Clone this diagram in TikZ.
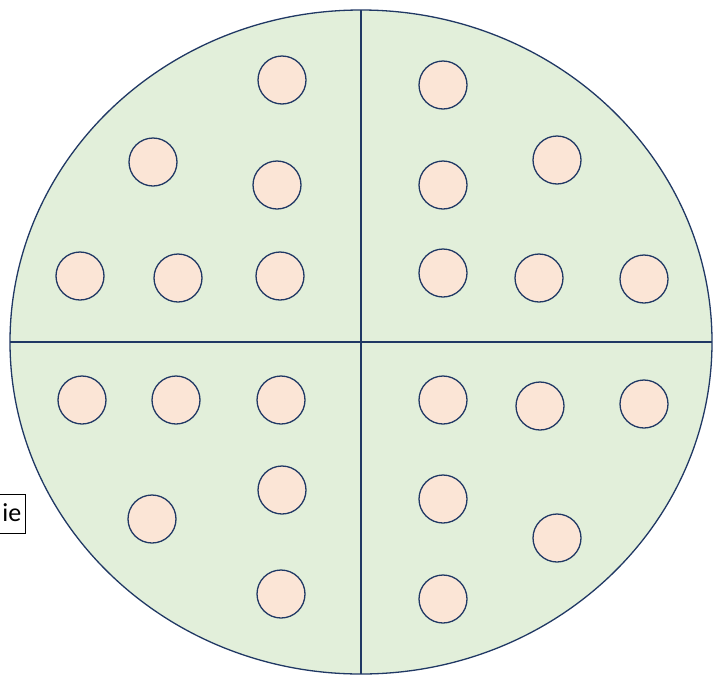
\documentclass[tikz,border=0pt]{standalone}
\usepackage{fontspec}
\setmainfont{Carlito}
\definecolor{pan}{HTML}{E2EFDA}
\definecolor{dot}{HTML}{FBE5D6}
\definecolor{edge}{HTML}{203864}
\begin{document}
\begin{tikzpicture}[x=1pt,y=-1pt,
  seed/.style={circle,draw=edge,fill=dot,line width=1.3pt,minimum size=48pt,inner sep=0pt},
  lbl/.style={draw=black,line width=1pt,fill=white,inner sep=0pt}]
\useasboundingbox (0,0) rectangle (717,675);
\begin{scope}
\clip (0,0) rectangle (717,675);
\draw[edge,fill=pan,line width=1.3pt] (361,342) ellipse [x radius=351, y radius=332];
\coordinate (L) at (10,342);
\coordinate (R) at (712,342);
\coordinate (T) at (361,10);
\coordinate (B) at (361,674);
\draw[edge,line width=1.3pt] (L) -- (R);
\draw[edge,line width=1.3pt] (T) -- (B);
\foreach \n/\x/\y in {a1/282/80,a2/153/162,a3/277/185,a4/80/276,a5/178/278,a6/280/276,
  b1/443/85,b2/557/160,b3/443/185,b4/443/273,b5/539/278,b6/644/279,
  c1/82/400,c2/176/400,c3/281/400,c4/282/490,c5/152/519,c6/281/594,
  d1/443/400,d2/540/406,d3/644/404,d4/443/499,d5/557/538,d6/443/599}
  \node[seed] (\n) at (\x,\y) {};
\node[lbl,minimum width=60pt,minimum height=39pt,anchor=east] (box) at (25.5,513.5) {};
\node[font=\fontsize{26}{30}\selectfont,anchor=base east,inner sep=0pt] (boxtext) at (21.5,521.5) {ie};
\end{scope}
\end{tikzpicture}
\end{document}
